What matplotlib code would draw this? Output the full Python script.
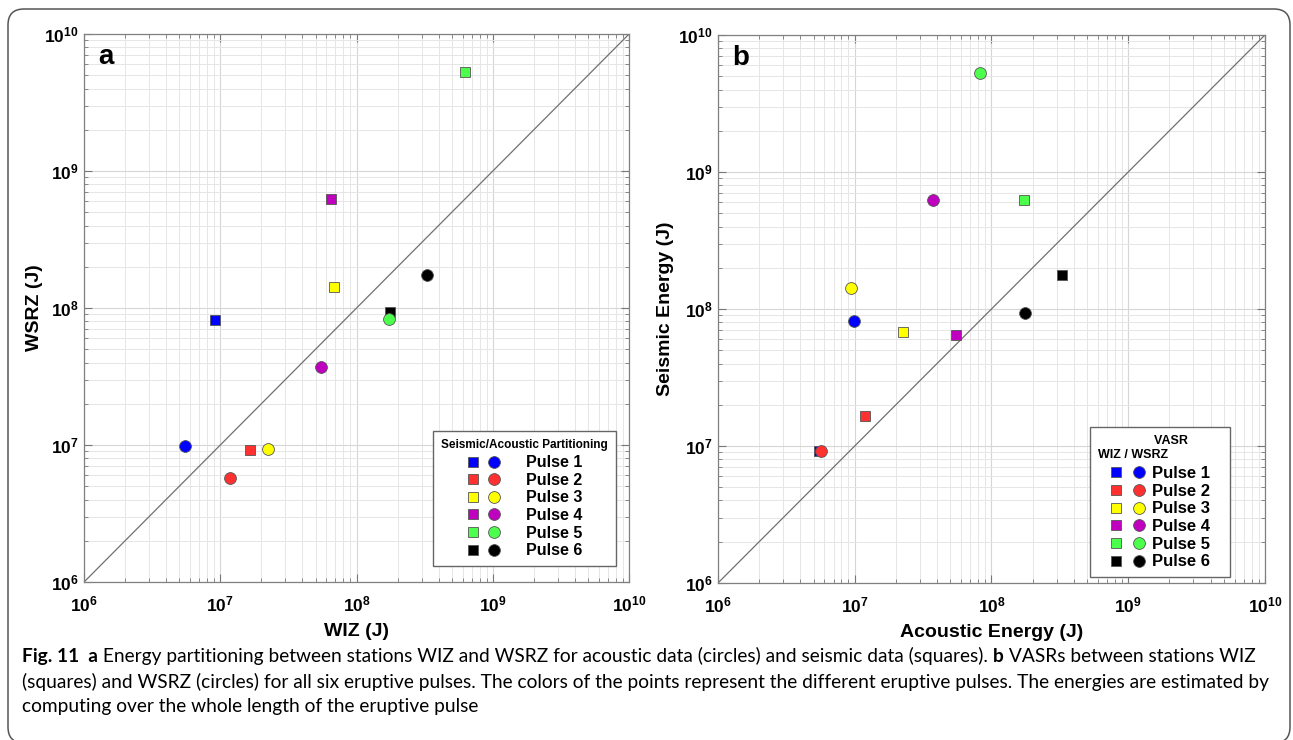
import numpy as np
import matplotlib.pyplot as plt
from matplotlib.legend_handler import HandlerTuple
from matplotlib.ticker import LogLocator, FuncFormatter, NullFormatter
from matplotlib.patches import FancyBboxPatch

plt.rcParams['font.family'] = 'Liberation Sans'
plt.rcParams['mathtext.fontset'] = 'custom'
plt.rcParams['mathtext.rm'] = 'Liberation Sans'
plt.rcParams['mathtext.bf'] = 'Liberation Sans:bold'

# energies (J), one value per eruptive pulse
pulses = ['Pulse 1', 'Pulse 2', 'Pulse 3', 'Pulse 4', 'Pulse 5', 'Pulse 6']
colors = ['#0000ff', '#ff3030', '#ffff00', '#bf00bf', '#4dff4d', '#000000']
acoustic_wiz = [5.5e6, 1.18e7, 2.24e7, 5.5e7, 1.74e8, 3.27e8]
acoustic_wsrz = [9.8e6, 5.7e6, 9.35e6, 3.72e7, 8.3e7, 1.75e8]
seismic_wiz = [9.2e6, 1.66e7, 6.8e7, 6.5e7, 6.25e8, 1.76e8]
seismic_wsrz = [8.2e7, 9.2e6, 1.43e8, 6.23e8, 5.28e9, 9.3e7]

fig = plt.figure(figsize=(12.93, 7.40), dpi=100)
ax_a = fig.add_axes([0.065, 0.2135, 0.4215, 0.7405])
ax_b = fig.add_axes([0.5553, 0.2122, 0.4230, 0.7405])


def setup_axes(ax, xlabel, ylabel, letter, ypad):
    ax.set_xscale('log')
    ax.set_yscale('log')
    ax.set_xlim(1e6, 1e10)
    ax.set_ylim(1e6, 1e10)
    ax.plot([1e6, 1e10], [1e6, 1e10], color='#707070', lw=0.9, zorder=2)
    for axis in [ax.xaxis, ax.yaxis]:
        axis.set_major_locator(LogLocator(base=10, numticks=10))
        axis.set_minor_locator(LogLocator(base=10, subs=np.arange(2, 10), numticks=40))
        axis.set_major_formatter(FuncFormatter(lambda v, p: r'$\mathbf{10^{%d}}$' % round(np.log10(v))))
        axis.set_minor_formatter(NullFormatter())
    ax.grid(True, which='major', color='#d6d6d6', lw=0.8)
    ax.grid(True, which='minor', color='#e6e6e6', lw=0.7)
    ax.set_axisbelow(True)
    ax.tick_params(which='both', direction='in', top=True, right=True,
                   colors='#777777', labelcolor='black', labelsize=12.5)
    ax.tick_params(which='major', length=6, width=0.8)
    ax.tick_params(which='minor', length=3, width=0.6)
    ax.tick_params(axis='x', pad=9)
    ax.tick_params(axis='y', pad=4)
    for s in ax.spines.values():
        s.set_color('#808080')
        s.set_linewidth(0.9)
    ax.set_xlabel(xlabel, fontsize=14, fontweight='bold', labelpad=6)
    ax.set_ylabel(ylabel, fontsize=14, fontweight='bold', labelpad=ypad)
    ax.text(0.026, 0.982, letter, transform=ax.transAxes, fontsize=20,
            fontweight='bold', va='top', ha='left')


# panel a: seismic (squares) and acoustic (circles), WIZ vs WSRZ
setup_axes(ax_a, 'WIZ (J)', 'WSRZ (J)', 'a', 1.0)
handles_a = []
for i in range(6):
    sq, = ax_a.plot(seismic_wiz[i], seismic_wsrz[i], 's', color=colors[i], ms=6.5,
                    mec='#555555', mew=0.6, zorder=3)
    handles_a.append(sq)
for i in range(6):
    ci, = ax_a.plot(acoustic_wiz[i], acoustic_wsrz[i], 'o', color=colors[i], ms=8.5,
                    mec='#555555', mew=0.6, zorder=4)
    handles_a[i] = (handles_a[i], ci)

leg = ax_a.legend(handles_a, pulses, handler_map={tuple: HandlerTuple(ndivide=None, pad=0.6)},
                  loc='lower right', bbox_to_anchor=(0.976, 0.029), borderaxespad=0,
                  title='Seismic/Acoustic Partitioning',
                  title_fontproperties={'weight': 'bold', 'size': 8.5},
                  prop={'weight': 'bold', 'size': 11.5}, fancybox=False,
                  edgecolor='#666666', framealpha=1, labelspacing=0.16,
                  handlelength=2.1, handletextpad=1.6, borderpad=0.5)
leg.get_frame().set_linewidth(1.0)
leg._legend_box.sep = 3

# panel b: acoustic vs seismic energy at WIZ (squares) and WSRZ (circles)
setup_axes(ax_b, 'Acoustic Energy (J)', 'Seismic Energy (J)', 'b', 2.5)
handles_b = []
for i in range(6):
    sq, = ax_b.plot(acoustic_wiz[i], seismic_wiz[i], 's', color=colors[i], ms=6.5,
                    mec='#555555', mew=0.6, zorder=3)
    handles_b.append(sq)
for i in range(6):
    ci, = ax_b.plot(acoustic_wsrz[i], seismic_wsrz[i], 'o', color=colors[i], ms=8.5,
                    mec='#555555', mew=0.6, zorder=4)
    handles_b[i] = (handles_b[i], ci)

leg = ax_b.legend(handles_b, pulses, handler_map={tuple: HandlerTuple(ndivide=None, pad=0.6)},
                  loc='lower right', bbox_to_anchor=(0.936, 0.011), borderaxespad=0,
                  title='                VASR          \nWIZ / WSRZ',
                  title_fontproperties={'weight': 'bold', 'size': 9},
                  prop={'weight': 'bold', 'size': 12}, fancybox=False,
                  edgecolor='#666666', framealpha=1, labelspacing=0.16,
                  handlelength=2.1, handletextpad=0.4, borderpad=0.45)
leg.get_frame().set_linewidth(1.0)
leg._legend_box.sep = 4

# rounded frame around the figure and caption
frame = FancyBboxPatch((0.08, -0.03), 12.82, 7.34, boxstyle='round,pad=0,rounding_size=0.16',
                       transform=fig.dpi_scale_trans, fill=False, ec='#555555', lw=1.1)
fig.add_artist(frame)

cap_font = 'Lato'
cap_size = 13.8
lines = [
    [('Fig. 11', 'bold'), ('  a', 'bold'),
     (' Energy partitioning between stations WIZ and WSRZ for acoustic data (circles) and seismic data (squares). ', 'normal'),
     ('b', 'bold'), (' VASRs between stations WIZ', 'normal')],
    [('(squares) and WSRZ (circles) for all six eruptive pulses. The colors of the points represent the different eruptive pulses. The energies are estimated by', 'normal')],
    [('computing over the whole length of the eruptive pulse', 'normal')],
]
line_y = [0.1135, 0.0784, 0.0446]
for parts, y in zip(lines, line_y):
    prev = None
    for s, w in parts:
        if prev is None:
            prev = fig.text(0.017, y, s, fontsize=cap_size, fontweight=w, family=cap_font,
                            va='center', ha='left')
        else:
            prev = ax_a.annotate(s, xy=(1, 0), xycoords=prev, va='bottom', ha='left',
                                 fontsize=cap_size, fontweight=w, family=cap_font,
                                 annotation_clip=False)

fig.savefig('out.png', dpi=100)
